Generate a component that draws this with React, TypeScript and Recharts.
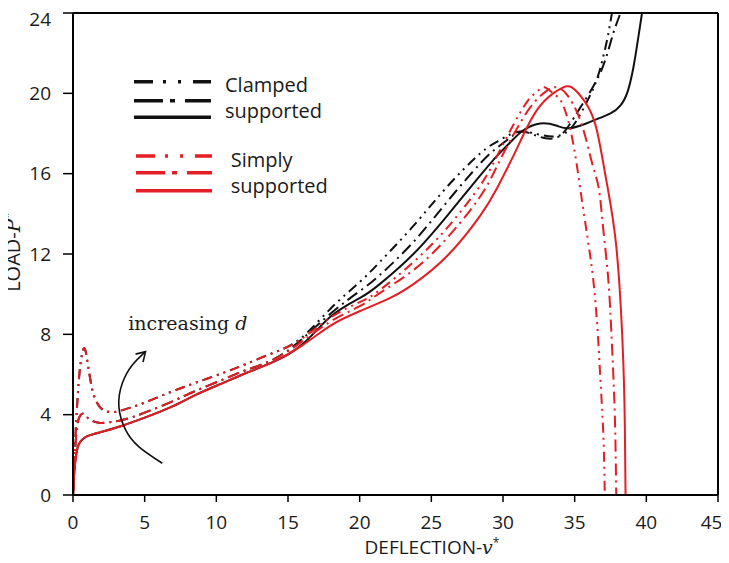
import React from 'react';
import { LineChart, Line, XAxis, YAxis, ReferenceLine } from 'recharts';

const W = 713;
const H = 550;

const xTicks = [0, 5, 10, 15, 20, 25, 30, 35, 40, 45];
const yTicks = [0, 4, 8, 12, 16, 20, 24];

// Clamped supported (black)
const clampedDDD: [number, number][] = [
  [0, 0], [0.12, 2.2], [0.3, 4.6], [0.5, 6.4], [0.75, 7.3], [0.95, 6.9], [1.15, 6.0], [1.4, 5.1],
  [1.75, 4.5], [2.2, 4.2], [3.0, 4.15], [4.0, 4.35], [5.0, 4.6], [6.9, 5.15], [8.6, 5.6], [10.4, 6.06],
  [12, 6.5], [13.9, 7.06], [15.8, 7.75], [18, 9.3], [20, 10.6], [21.4, 11.6], [23.75, 13.4], [26.1, 15.35],
  [28.4, 17.0], [29.6, 17.6], [30.5, 17.95], [31.4, 18.1], [32.5, 17.95], [33.5, 17.85], [34.3, 18.0],
  [35.0, 18.5], [35.8, 19.5], [36.5, 20.6], [36.95, 21.7], [37.3, 22.8], [37.6, 24],
];
const clampedDD: [number, number][] = [
  [0, 0], [0.08, 1.2], [0.2, 2.8], [0.4, 3.8], [0.7, 4.05], [0.95, 3.9], [1.3, 3.7], [1.8, 3.6],
  [2.3, 3.6], [3.44, 3.73], [5, 4.1], [6.9, 4.65], [8.6, 5.2], [10.4, 5.73], [12, 6.2], [13.9, 6.72],
  [15.8, 7.65], [18, 9.05], [20, 10.15], [21.4, 10.95], [23.75, 12.6], [26.1, 14.6], [28.4, 16.5],
  [29.6, 17.3], [30.7, 17.9], [31.4, 18.1], [32.3, 17.9], [33.1, 17.75], [33.9, 17.85], [34.6, 18.4],
  [35.4, 19.3], [36.5, 20.6], [37.2, 21.8], [37.7, 23.0], [38.2, 24],
];
const clampedSolid: [number, number][] = [
  [0, 0], [0.06, 0.8], [0.15, 1.6], [0.3, 2.3], [0.5, 2.65], [0.8, 2.85], [1.2, 2.98], [2.27, 3.2],
  [3.44, 3.45], [5, 3.85], [6.9, 4.4], [8.6, 5.0], [10.4, 5.56], [12, 6.05], [13.9, 6.6], [16, 7.5],
  [18, 8.9], [20, 9.8], [21.4, 10.5], [23.75, 12.0], [26.1, 13.9], [28.4, 15.9], [29.6, 16.9],
  [30.7, 17.7], [31.5, 18.2], [32.6, 18.5], [33.7, 18.4], [34.6, 18.26], [35.8, 18.5], [36.5, 18.7],
  [37.5, 19.0], [38.2, 19.4], [38.7, 20.1], [39.1, 21.3], [39.4, 22.6], [39.7, 24],
];

// Simply supported (red)
const simplyDDD: [number, number][] = [
  [0, 0], [0.12, 2.2], [0.3, 4.6], [0.5, 6.4], [0.75, 7.3], [0.95, 6.9], [1.15, 6.0], [1.4, 5.1],
  [1.75, 4.5], [2.2, 4.2], [3.0, 4.15], [4.0, 4.35], [5.0, 4.6], [6.9, 5.15], [8.6, 5.6], [10.4, 6.06],
  [12, 6.5], [13.9, 7.06], [15.8, 7.7], [18, 8.85], [20, 9.6], [21.4, 10.2], [23.75, 11.6], [26.1, 13.3],
  [28.4, 15.4], [29.6, 16.9], [30.7, 18.4], [31.7, 19.6], [32.4, 20.1], [32.9, 20.3], [33.5, 20.0],
  [34.2, 19.4], [34.9, 17.5], [35.4, 15.2], [35.9, 12.8], [36.3, 10.7], [36.6, 8.2], [36.8, 5.7],
  [37.0, 3.0], [37.1, 0],
];
const simplyDD: [number, number][] = [
  [0, 0], [0.08, 1.2], [0.2, 2.8], [0.4, 3.8], [0.7, 4.05], [0.95, 3.9], [1.3, 3.7], [1.8, 3.6],
  [2.3, 3.6], [3.44, 3.73], [5, 4.1], [6.9, 4.65], [8.6, 5.2], [10.4, 5.73], [12, 6.2], [13.9, 6.72],
  [15.8, 7.55], [18, 8.65], [20, 9.4], [21.4, 10.05], [23.75, 11.2], [26.1, 12.8], [28.4, 14.85],
  [29.6, 16.4], [30.7, 17.9], [31.9, 19.3], [33.0, 20.1], [33.8, 20.3], [34.5, 19.9], [35.2, 19.0],
  [35.8, 17.7], [36.3, 16.3], [36.7, 15.2], [37.0, 13.2], [37.35, 10.7], [37.6, 7.5], [37.8, 4.0],
  [37.9, 0],
];
const simplySolid: [number, number][] = [
  [0, 0], [0.06, 0.8], [0.15, 1.6], [0.3, 2.3], [0.5, 2.65], [0.8, 2.85], [1.2, 2.98], [2.27, 3.2],
  [3.44, 3.45], [5, 3.85], [6.9, 4.4], [8.6, 5.0], [10.4, 5.56], [12, 6.05], [13.9, 6.6], [16, 7.45],
  [18, 8.45], [20, 9.15], [22.1, 9.8], [23.75, 10.5], [26.1, 11.9], [28.4, 13.9], [29.6, 15.3],
  [30.7, 16.85], [31.4, 17.9], [32.4, 19.2], [33.5, 20.0], [34.2, 20.3], [34.8, 20.3], [35.7, 19.6],
  [36.5, 18.3], [37.2, 15.7], [37.9, 12.4], [38.35, 7.4], [38.5, 3.5], [38.55, 0],
];

// "increasing d" arrow (tail -> head)
const arrowPath: [number, number][] = [
  [6.23, 1.58], [4.6, 2.4], [3.67, 3.24], [3.2, 4.4], [3.44, 5.56], [4.14, 6.47], [5.06, 7.14],
];

const toPts = (arr: [number, number][]) => arr.map(([x, y]) => ({ x, y }));

const RED = '#e31e24';
const BLACK = '#111111';
const DDD = '10 5 2 5 2 5';
const DD = '12 5 2 5';

const ArrowHead = (props: any) => {
  const { cx, cy, index } = props;
  if (index !== arrowPath.length - 1 || cx == null) return <g key={`ah${index}`} />;
  return (
    <path
      key="arrowhead"
      d={`M${cx - 10},${cy + 2.5} L${cx},${cy} L${cx - 2.5},${cy + 10.5}`}
      fill="none"
      stroke={BLACK}
      strokeWidth={1.6}
    />
  );
};

const tickStyle = { fontSize: 19, fill: '#1a1a1a', fontFamily: 'Open Sans' };

export default function App() {
  const series = [
    { key: 'c1', data: clampedDDD, color: BLACK, dash: DDD },
    { key: 'c2', data: clampedDD, color: BLACK, dash: DD },
    { key: 'c3', data: clampedSolid, color: BLACK, dash: undefined },
    { key: 's1', data: simplyDDD, color: RED, dash: DDD },
    { key: 's2', data: simplyDD, color: RED, dash: DD },
    { key: 's3', data: simplySolid, color: RED, dash: undefined },
  ];
  const font = 'Open Sans';
  return (
    <div style={{ position: 'relative', width: W, height: H }}>
      <LineChart width={W} height={H} margin={{ top: 5, right: 3, left: 0, bottom: 0 }}>
        <XAxis
          dataKey="x"
          type="number"
          domain={[0, 45]}
          ticks={xTicks}
          allowDataOverflow
          height={63}
          tickSize={7}
          tickMargin={14}
          axisLine={{ stroke: '#000', strokeWidth: 2 }}
          tickLine={{ stroke: '#000', strokeWidth: 1.5 }}
          tick={tickStyle}
        />
        <YAxis
          dataKey="y"
          type="number"
          domain={[0, 24]}
          ticks={yTicks}
          allowDataOverflow
          width={65}
          tickSize={10}
          tickMargin={12}
          axisLine={{ stroke: '#000', strokeWidth: 2 }}
          tickLine={{ stroke: '#000', strokeWidth: 1.5 }}
          tick={tickStyle}
        />
        <ReferenceLine y={24} stroke="#000" strokeWidth={2} />
        <ReferenceLine x={45} stroke="#000" strokeWidth={2} />
        {series.map((s) => (
          <Line
            key={s.key}
            data={toPts(s.data)}
            dataKey="y"
            type="natural"
            stroke={s.color}
            strokeWidth={2}
            strokeDasharray={s.dash}
            dot={false}
            activeDot={false}
            isAnimationActive={false}
          />
        ))}
        <Line
          key="arrow"
          data={toPts(arrowPath)}
          dataKey="y"
          type="natural"
          stroke={BLACK}
          strokeWidth={1.6}
          dot={ArrowHead}
          activeDot={false}
          isAnimationActive={false}
        />
      </LineChart>
      <svg
        width={W}
        height={H}
        style={{ position: 'absolute', left: 0, top: 0, pointerEvents: 'none', overflow: 'visible' }}
      >
        {/* Legend: clamped */}
        <line x1={126} x2={203} y1={73.7} y2={73.7} stroke={BLACK} strokeWidth={3.5} strokeDasharray="19 10 3 12 3 12" />
        <line x1={126} x2={203} y1={92.7} y2={92.7} stroke={BLACK} strokeWidth={3.5} strokeDasharray="29 7 5 10" />
        <line x1={126} x2={203} y1={109.3} y2={109.3} stroke={BLACK} strokeWidth={3.5} />
        <text x={217} y={83.7} fontFamily={font} fontSize={20} fill="#1a1a1a">Clamped</text>
        <text x={217} y={110.3} fontFamily={font} fontSize={20} fill="#1a1a1a">supported</text>
        {/* Legend: simply */}
        <line x1={128} x2={204} y1={148} y2={148} stroke={RED} strokeWidth={3.5} strokeDasharray="19 10 3 12 3 12" />
        <line x1={128} x2={204} y1={164.7} y2={164.7} stroke={RED} strokeWidth={3.5} strokeDasharray="29 7 5 10" />
        <line x1={128} x2={204} y1={182.7} y2={182.7} stroke={RED} strokeWidth={3.5} />
        <text x={222.7} y={158.7} fontFamily={font} fontSize={20} fill="#1a1a1a">Simply</text>
        <text x={222.7} y={185.3} fontFamily={font} fontSize={20} fill="#1a1a1a">supported</text>
        {/* annotation */}
        <text x={120.3} y={322} fontFamily="DejaVu Serif" fontSize={19} fill="#1a1a1a">
          increasing <tspan fontStyle="italic">d</tspan>
        </text>
        {/* axis titles */}
        <text x={424} y={546} textAnchor="middle" fontFamily={font} fontSize={19} fill="#1a1a1a">
          DEFLECTION-<tspan fontFamily="DejaVu Serif" fontStyle="italic">v</tspan>
          <tspan dy={-7} fontSize={12}>*</tspan>
        </text>
        <text transform="translate(12,244) rotate(-90)" textAnchor="middle" fontFamily={font} fontSize={20} fill="#1a1a1a">
          LOAD-<tspan fontFamily="DejaVu Serif" fontStyle="italic">P</tspan>
          <tspan dy={-7} fontSize={12}>*</tspan>
        </text>
      </svg>
    </div>
  );
}
